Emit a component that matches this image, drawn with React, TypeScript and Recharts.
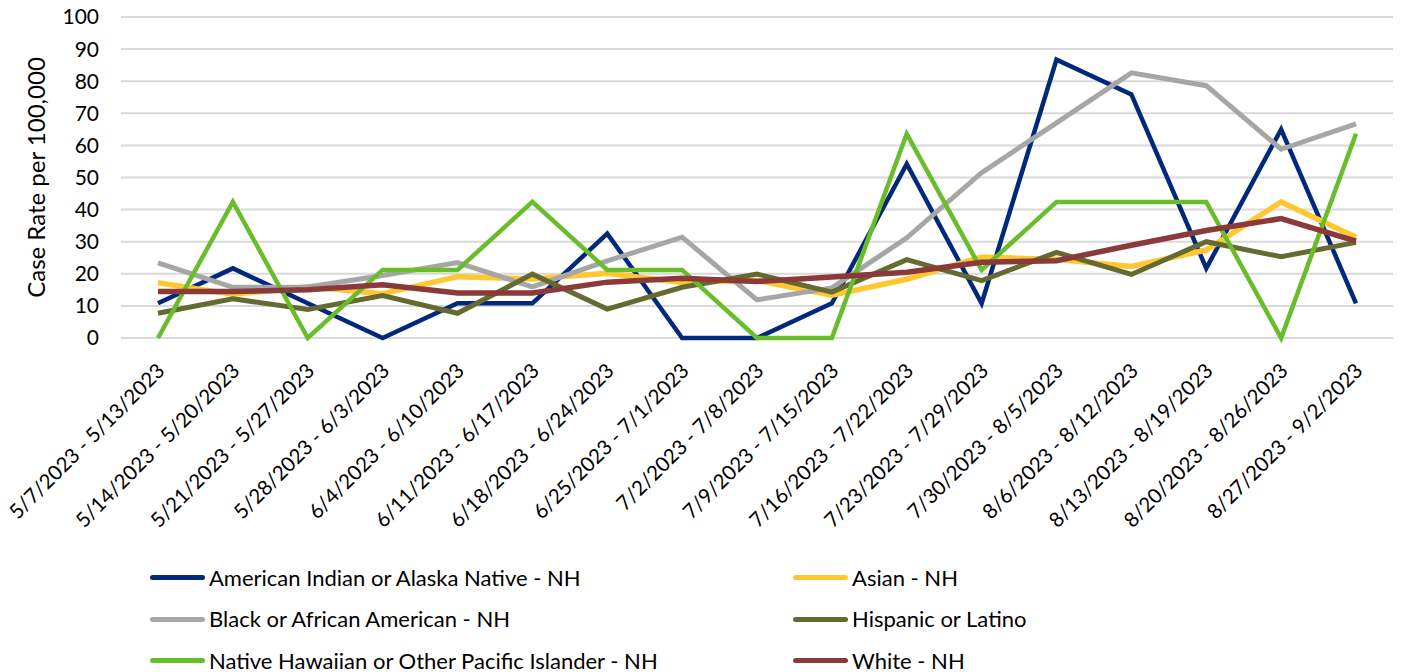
import { LineChart, Line, XAxis, YAxis, CartesianGrid, Legend } from "recharts";

const weeks = [
  "5/7/2023 - 5/13/2023",
  "5/14/2023 - 5/20/2023",
  "5/21/2023 - 5/27/2023",
  "5/28/2023 - 6/3/2023",
  "6/4/2023 - 6/10/2023",
  "6/11/2023 - 6/17/2023",
  "6/18/2023 - 6/24/2023",
  "6/25/2023 - 7/1/2023",
  "7/2/2023 - 7/8/2023",
  "7/9/2023 - 7/15/2023",
  "7/16/2023 - 7/22/2023",
  "7/23/2023 - 7/29/2023",
  "7/30/2023 - 8/5/2023",
  "8/6/2023 - 8/12/2023",
  "8/13/2023 - 8/19/2023",
  "8/20/2023 - 8/26/2023",
  "8/27/2023 - 9/2/2023",
];

const aian = [10.8, 21.7, 10.8, 0, 10.8, 10.8, 32.5, 0, 0, 10.8, 54.2, 10.8, 86.7, 75.9, 21.7, 65.0, 10.8];
const asian = [17.2, 13.6, 16.0, 13.8, 19.1, 18.4, 20.2, 17.3, 17.9, 13.3, 18.3, 25.2, 24.5, 22.3, 27.4, 42.4, 31.4];
const black = [23.4, 15.8, 15.9, 19.5, 23.5, 15.9, 24.0, 31.4, 11.9, 15.6, 31.2, 51.5, 67.0, 82.6, 78.6, 58.8, 66.7];
const hispanic = [7.7, 12.2, 8.9, 13.2, 7.7, 19.9, 9.0, 15.8, 19.9, 14.3, 24.4, 17.9, 26.7, 19.8, 30.0, 25.3, 29.8];
const nhpi = [0, 42.4, 0, 21.2, 21.2, 42.4, 21.2, 21.2, 0, 0, 63.6, 21.2, 42.4, 42.4, 42.4, 0, 63.6];
const white = [14.5, 14.5, 15.0, 16.6, 14.0, 14.0, 17.4, 18.6, 17.6, 19.0, 20.5, 23.6, 24.1, 28.9, 33.5, 37.2, 30.2];

const yTicks = [0, 10, 20, 30, 40, 50, 60, 70, 80, 90, 100];

const series = [
  { key: "aian", name: "American Indian or Alaska Native - NH", color: "#00297b", width: 4.5 },
  { key: "asian", name: "Asian - NH", color: "#ffc831", width: 5.5 },
  { key: "black", name: "Black or African American - NH", color: "#a6a6a6", width: 5 },
  { key: "hispanic", name: "Hispanic or Latino", color: "#656a32", width: 5 },
  { key: "nhpi", name: "Native Hawaiian or Other Pacific Islander - NH", color: "#6abd2a", width: 4.5 },
  { key: "white", name: "White - NH", color: "#8b3a3a", width: 5.5 },
];

const data = weeks.map((week, i) => ({
  week,
  aian: aian[i],
  asian: asian[i],
  black: black[i],
  hispanic: hispanic[i],
  nhpi: nhpi[i],
  white: white[i],
}));

const FONT = "Lato, 'Noto Sans', sans-serif";

function WeekTick({ x, y, payload }: any) {
  return (
    <g transform={`translate(${x},${y})`}>
      <text
        x={8}
        y={32}
        textAnchor="end"
        transform="rotate(-45 8 32)"
        fill="#000"
        fontSize={20.5}
        fontFamily={FONT}
      >
        {payload.value}
      </text>
    </g>
  );
}

function LegendBox() {
  return (
    <div
      style={{
        display: "grid",
        gridTemplateColumns: "643px 555px",
        paddingLeft: 150,
        paddingTop: 2,
        fontFamily: FONT,
        fontSize: 22,
        lineHeight: "24px",
        color: "#000",
      }}
    >
      {series.map((s) => (
        <div key={s.key} style={{ display: "flex", alignItems: "center", height: 41.5 }}>
          <span
            style={{
              display: "inline-block",
              width: 55,
              height: 5,
              borderRadius: 3,
              background: s.color,
              marginRight: 4,
            }}
          />
          <span>{s.name}</span>
        </div>
      ))}
    </div>
  );
}

export default function App() {
  return (
    <div style={{ position: "absolute", left: 0, top: 0, width: 1402, height: 672, background: "#fff" }}>
      <LineChart width={1402} height={672} data={data} margin={{ top: 17, right: 9, left: 0, bottom: 0 }}>
        <CartesianGrid horizontal vertical={false} stroke="#d9d9d9" strokeWidth={2} />
        <XAxis
          dataKey="week"
          interval={0}
          tickLine={false}
          axisLine={false}
          tickSize={0}
          height={217}
          padding={{ left: 37, right: 37 }}
          tick={<WeekTick />}
        />
        <YAxis
          width={121}
          domain={[0, 100]}
          ticks={yTicks}
          tickLine={false}
          axisLine={false}
          tickSize={0}
          tickMargin={22}
          tick={{ fill: "#000", fontSize: 21, fontFamily: FONT }}
          label={{
            value: "Case Rate per 100,000",
            angle: -90,
            position: "insideLeft",
            offset: 36,
            style: { fill: "#000", fontSize: 24, fontFamily: FONT, textAnchor: "middle" },
          }}
        />
        <Legend
          verticalAlign="bottom"
          align="left"
          wrapperStyle={{ width: 1402, height: 117, left: 0 }}
          content={() => <LegendBox />}
        />
        {series.map((s) => (
          <Line
            key={s.key}
            type="linear"
            dataKey={s.key}
            name={s.name}
            stroke={s.color}
            strokeWidth={s.width}
            dot={false}
            isAnimationActive={false}
          />
        ))}
      </LineChart>
    </div>
  );
}
